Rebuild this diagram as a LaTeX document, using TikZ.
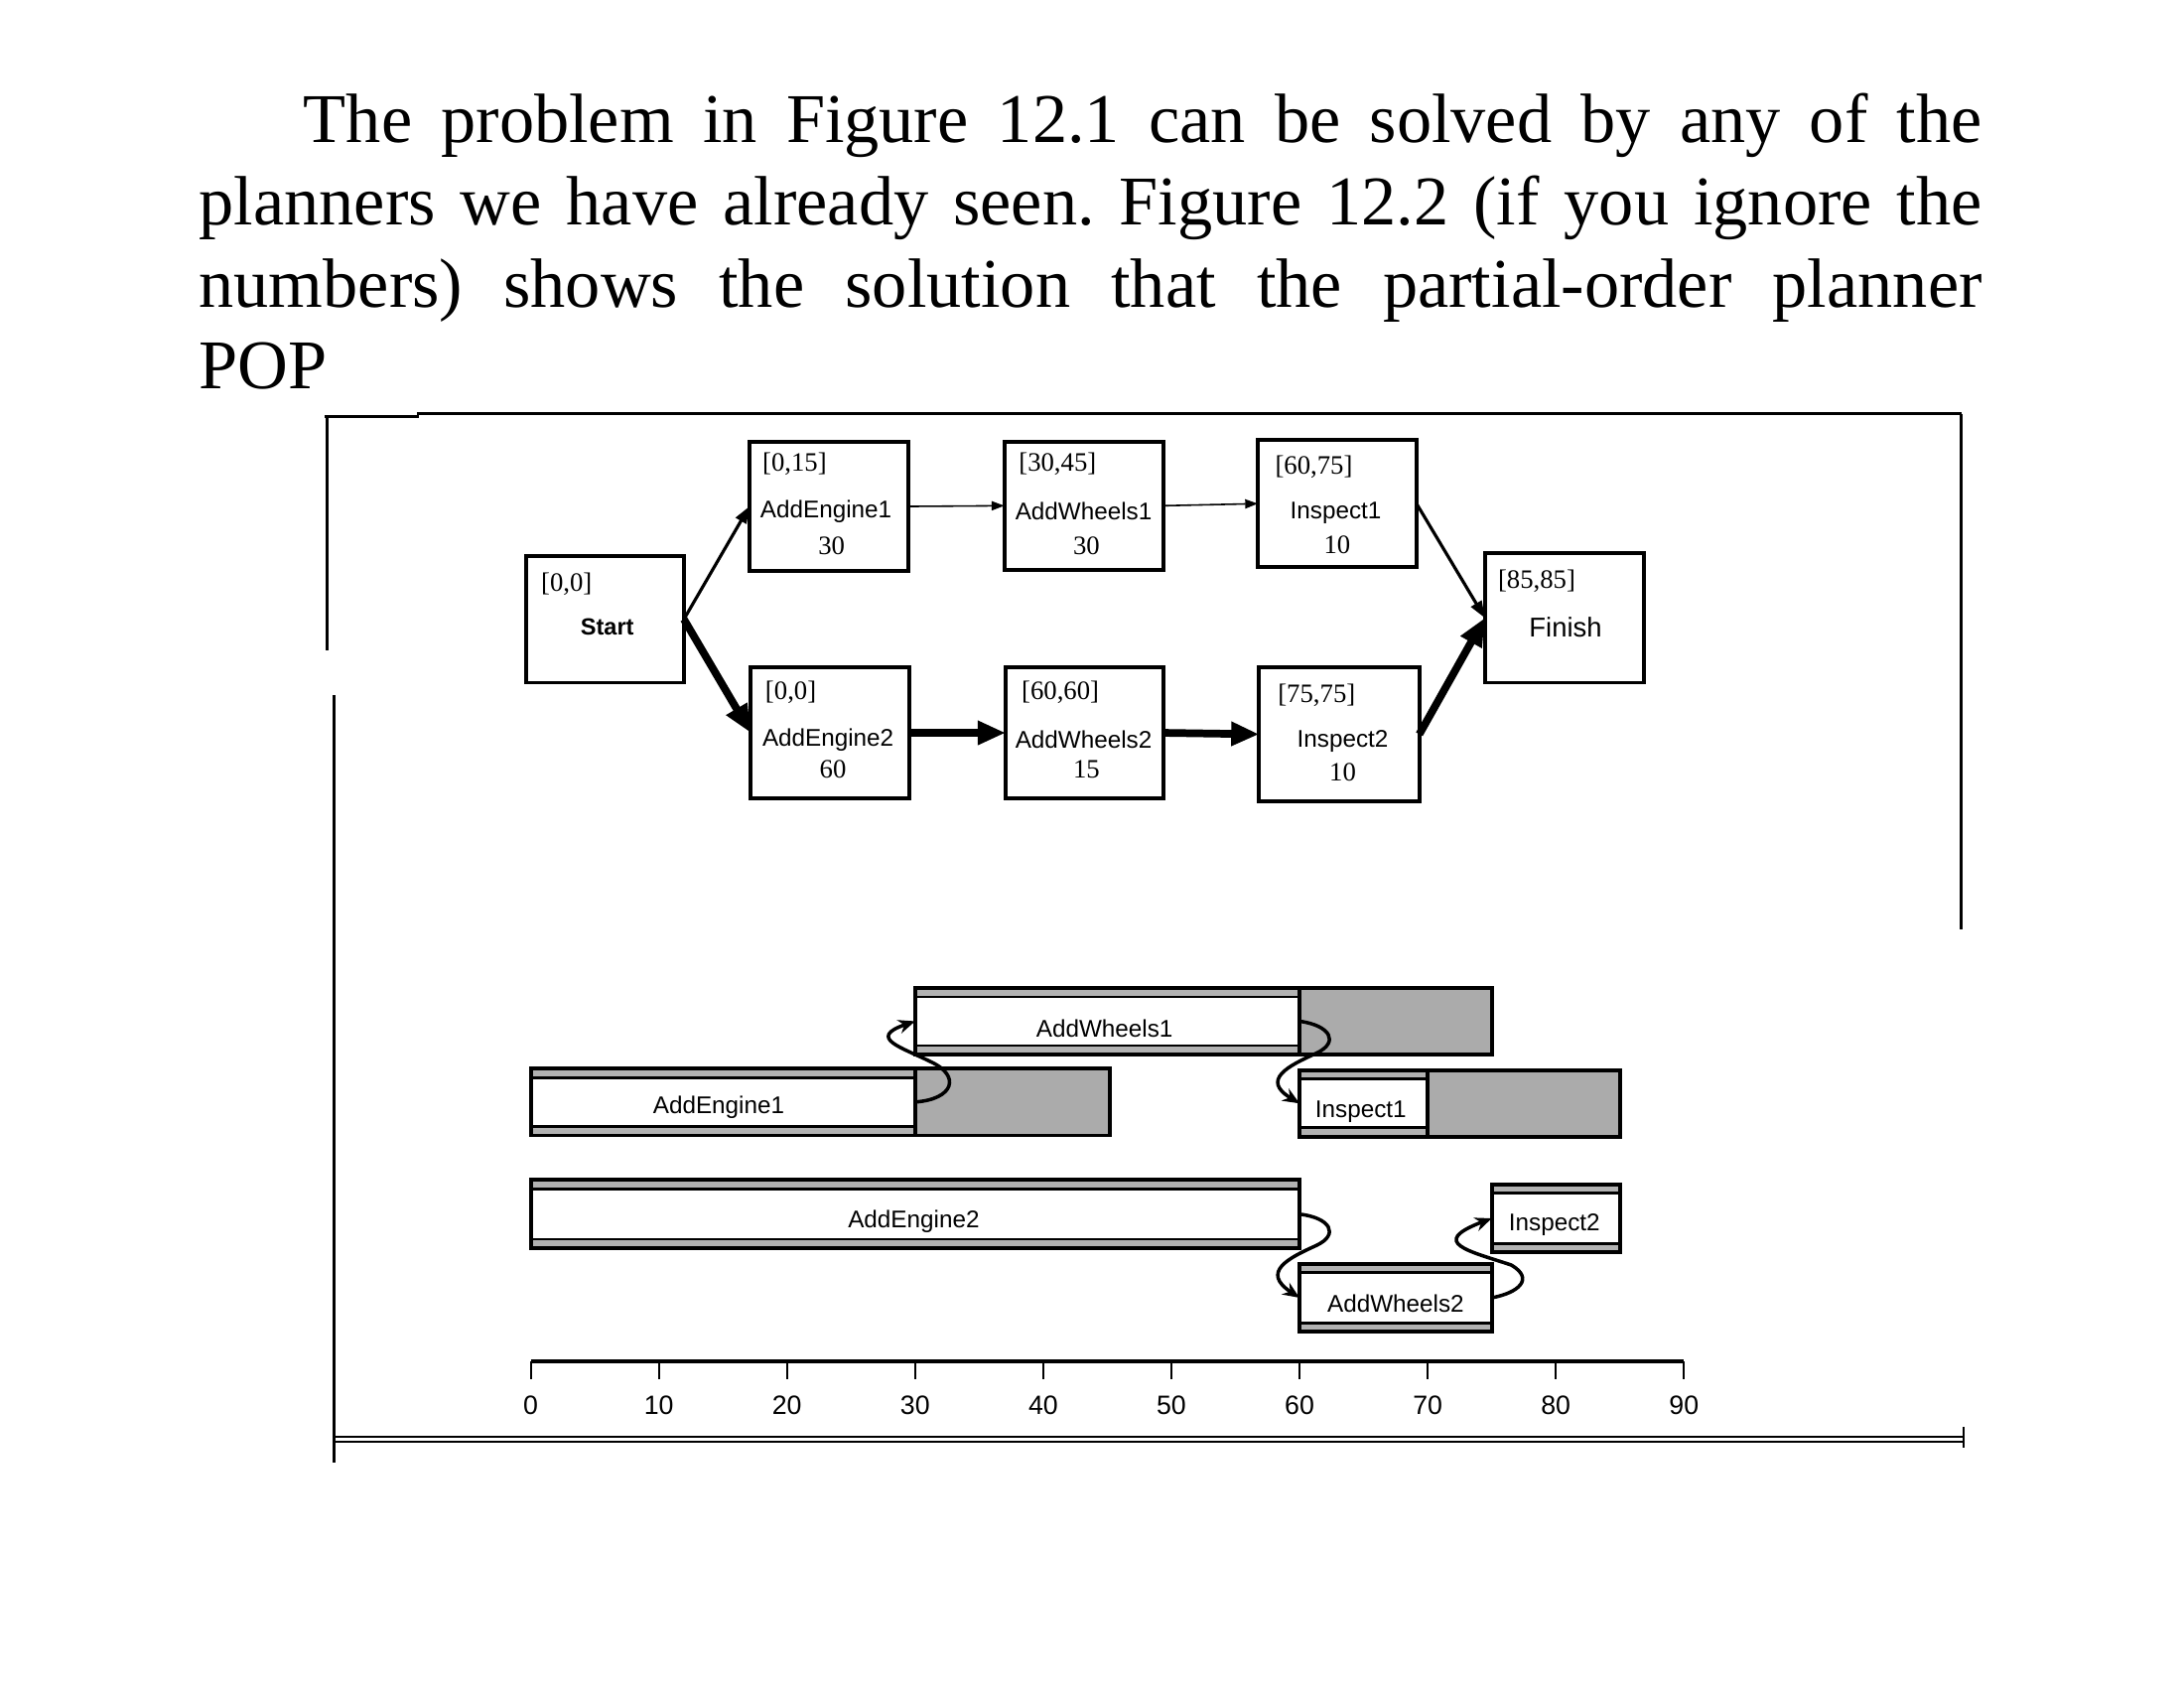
\documentclass[tikz,border=0pt]{standalone}
\usepackage{fontspec}
\setmainfont{Liberation Serif}
\setsansfont{Liberation Sans}
\usetikzlibrary{arrows.meta}
\newlength\uu
\setlength\uu{0.01403cm}
\newcommand\gband[1]{%
  \fill[black!30] (#1.north west) rectangle ([yshift=-6.5\uu]#1.north east);
  \fill[black!30] (#1.south west) rectangle ([yshift=6.5\uu]#1.south east);
  \draw[line width=0.8pt] ([yshift=-6.5\uu]#1.north west) -- ([yshift=-6.5\uu]#1.north east);
  \draw[line width=0.8pt] ([yshift=6.5\uu]#1.south west) -- ([yshift=6.5\uu]#1.south east);
  \draw[line width=1.1pt] (#1.north west) rectangle (#1.south east);}
\frenchspacing
\begin{document}
\begin{tikzpicture}[x=0.01403cm,y=-0.01403cm,
  maintext/.style={inner sep=0pt,outer sep=0pt,anchor=base west,font=\fontsize{20}{24}\selectfont},
  netbox/.style={draw,line width=1.1pt,outer sep=0pt,inner sep=0pt},
  tlabel/.style={inner sep=0pt,font=\fontsize{7.6}{8}\selectfont},
  slabel/.style={inner sep=0pt,font=\sffamily\fontsize{6.9}{8}\selectfont},
  axlabel/.style={inner sep=0pt,font=\sffamily\fontsize{7.6}{8}\selectfont},
  thinarr/.style={line width=0.45pt,-{Triangle[length=3.6pt,width=2.6pt]}},
  medarr/.style={line width=0.9pt,-{Triangle[length=4.8pt,width=3.4pt]}},
  thickarr/.style={line width=2.2pt,-{Triangle[length=8pt,width=6.5pt]}},
  gwhite/.style={fill=white,inner sep=0pt,outer sep=0pt},
  gshade/.style={fill=black!33,draw,line width=1.1pt,outer sep=0pt,inner sep=0pt},
  garr/.style={line width=1pt,-{Stealth[length=4.8pt,width=4pt]}},
  frame/.style={line width=0.8pt}
  ]
\useasboundingbox (0,0) rectangle (1568,1211.7);

% ---- paragraph text ----
\node[maintext] (t1) at (218,102.6) {\makebox[1205\uu][s]{The problem in Figure 12.1 can be solved by any of the}};
\node[maintext] (t2) at (143,161.6) {\makebox[1280\uu][s]{planners we have already seen. Figure 12.2 (if you ignore the}};
\node[maintext] (t3) at (143,220.5) {\makebox[1280\uu][s]{numbers) shows the solution that the partial-order planner}};
\node[maintext] (t4) at (143,279) {POP};

% ---- frame ----
\draw[frame] (233,299) -- (300,299) -- (300,297) -- (1408,297);
\draw[line width=1pt] (1408,297) -- (1408,667);
\draw[frame] (235,299) -- (235,467);
\draw[frame] (240,499) -- (240,1050);
\draw[line width=0.6pt] (240,1031) -- (1410,1031);
\draw[line width=0.6pt] (240,1035) -- (1410,1035);
\draw[line width=0.6pt] (1410,1024) -- (1410,1039);

% ---- network ----
\node[netbox,minimum width=113\uu,minimum height=91\uu] (start) at (434.5,444.5) {};
\node[netbox,minimum width=114\uu,minimum height=93\uu] (ae1) at (595,363.5) {};
\node[netbox,minimum width=114\uu,minimum height=92\uu] (aw1) at (778,363) {};
\node[netbox,minimum width=114\uu,minimum height=91\uu] (in1) at (960,361.5) {};
\node[netbox,minimum width=114\uu,minimum height=93\uu] (fin) at (1123,443.5) {};
\node[netbox,minimum width=114\uu,minimum height=94\uu] (ae2) at (596,526) {};
\node[netbox,minimum width=113\uu,minimum height=94\uu] (aw2) at (778.5,526) {};
\node[netbox,minimum width=115\uu,minimum height=96\uu] (in2) at (961.5,527) {};

\node[tlabel,anchor=west] (startT) at (388,419) {[0,0]};
\node[inner sep=0pt,font=\sffamily\bfseries\fontsize{6.7}{8}\selectfont] (startN) at (436,450) {Start};

\node[tlabel,anchor=west] (ae1T) at (547,333) {[0,15]};
\node[slabel] (ae1N) at (593,367) {AddEngine1};
\node[tlabel] (ae1D) at (597,392) {30};

\node[tlabel,anchor=west] (aw1T) at (731,333) {[30,45]};
\node[slabel] (aw1N) at (778,367) {AddWheels1};
\node[tlabel] (aw1D) at (780,392) {30};

\node[tlabel,anchor=west] (in1T) at (915,335) {[60,75]};
\node[slabel] (in1N) at (959,368) {Inspect1};
\node[tlabel] (in1D) at (960,391) {10};

\node[tlabel,anchor=west] (finT) at (1075,417) {[85,85]};
\node[inner sep=0pt,font=\sffamily\fontsize{7.8}{9}\selectfont] (finN) at (1124,450) {Finish};

\node[tlabel,anchor=west] (ae2T) at (549,497) {[0,0]};
\node[slabel] (ae2N) at (594.5,531) {AddEngine2};
\node[tlabel] (ae2D) at (598,552) {60};

\node[tlabel,anchor=west] (aw2T) at (733,497) {[60,60]};
\node[slabel] (aw2N) at (778,531) {AddWheels2};
\node[tlabel] (aw2D) at (780,552) {15};

\node[tlabel,anchor=west] (in2T) at (917,499) {[75,75]};
\node[slabel] (in2N) at (964,532) {Inspect2};
\node[tlabel] (in2D) at (964,554) {10};

\draw[medarr] (start.east) -- (ae1.west);
\draw[thickarr] (start.east) -- (ae2.west);
\draw[thinarr] (ae1.east) -- (aw1.west);
\draw[thinarr] (aw1.east) -- (in1.west);
\draw[thickarr] (ae2.east) -- (aw2.west);
\draw[thickarr] (aw2.east) -- (in2.west);
\draw[medarr] (in1.east) -- (fin.west);
\draw[thickarr] (in2.east) -- (fin.west);

% ---- Gantt chart ----
\node[gshade,minimum width=138\uu,minimum height=48\uu] (sAW1) at (1002,733) {};
\node[gshade,minimum width=140\uu,minimum height=48\uu] (sAE1) at (727,791) {};
\node[gshade,minimum width=138\uu,minimum height=48\uu] (sI1) at (1094,792) {};

\node[gwhite,minimum width=276\uu,minimum height=48\uu] (gAW1) at (795,733) {};
\node[gwhite,minimum width=276\uu,minimum height=48\uu] (gAE1) at (519,791) {};
\node[gwhite,minimum width=92\uu,minimum height=48\uu] (gI1) at (979,792) {};
\node[gwhite,minimum width=552\uu,minimum height=49\uu] (gAE2) at (657,871.5) {};
\node[gwhite,minimum width=92\uu,minimum height=49\uu] (gI2) at (1117,874.5) {};
\node[gwhite,minimum width=138\uu,minimum height=49\uu] (gAW2) at (1002,931.5) {};
\gband{gAW1}
\gband{gAE1}
\gband{gI1}
\gband{gAE2}
\gband{gI2}
\gband{gAW2}

\node[slabel] (lAW1) at (793,738) {AddWheels1};
\node[slabel] (lAE1) at (516,795) {AddEngine1};
\node[slabel] (lI1) at (977,798) {Inspect1};
\node[slabel] (lAE2) at (656,877) {AddEngine2};
\node[slabel] (lI2) at (1116,879) {Inspect2};
\node[slabel] (lAW2) at (1002,936) {AddWheels2};

\draw[garr] (gAE1.east) .. controls (685,789) and (690,772) .. (668,762)
  .. controls (648,752) and (622,745) .. (gAW1.west);
\draw[garr] (gAW1.east) .. controls (955,736) and (962,748) .. (945,756)
  .. controls (925,765) and (905,775) .. (gI1.west);
\draw[garr] (gAE2.east) .. controls (955,874) and (962,886) .. (945,894)
  .. controls (925,903) and (905,913) .. (gAW2.west);
\draw[garr] (gAW2.east) .. controls (1090,928) and (1102,918) .. (1085,908)
  .. controls (1055,898) and (1025,892) .. (gI2.west);

% ---- time axis ----
\draw[line width=1pt] (381,977) -- (1209,977);
\foreach \i in {0,...,9} \draw[line width=0.6pt] ({381+92*\i},977) -- ({381+92*\i},990);
\foreach \i/\l in {0/0,1/10,2/20,3/30,4/40,5/50,6/60,7/70,8/80,9/90}
  \node[axlabel] (ax\i) at ({381+92*\i},1009) {\l};
\end{tikzpicture}
\end{document}
